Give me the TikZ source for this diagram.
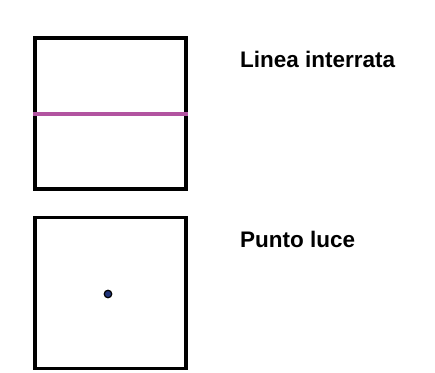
\documentclass[tikz,border=0pt]{standalone}
\usepackage{fontspec}
\setmainfont{Liberation Sans}
\usepackage{xcolor}
\definecolor{lineacol}{RGB}{178,84,160}
\definecolor{puntocol}{RGB}{32,52,122}

\begin{document}
\begin{tikzpicture}[x=1pt,y=-1pt,node distance=179.5pt,
  box node/.style={rectangle,draw,line width=3.2pt,minimum size=151pt,inner sep=0pt},
  label node/.style={anchor=base west,inner sep=0pt,font=\bfseries\fontsize{22.5}{27}\selectfont}]

            \useasboundingbox (0,0) rectangle (435,372);

            \node[box node] (1) at (110.5,113.5) {};
            \node[box node] (2) [below of = 1] {};
            \node[label node] (3) at (240,67) {Linea interrata};
            \node[label node] (4) at (240,247) {Punto luce};
            \node[circle, draw, fill=puntocol, inner sep=0pt, minimum size=7.5pt, line width=1.2pt] (5) at (108,294) {};

            \draw[lineacol, line width=4pt] (1.west) to (1.east);

        \end{tikzpicture}
\end{document}
